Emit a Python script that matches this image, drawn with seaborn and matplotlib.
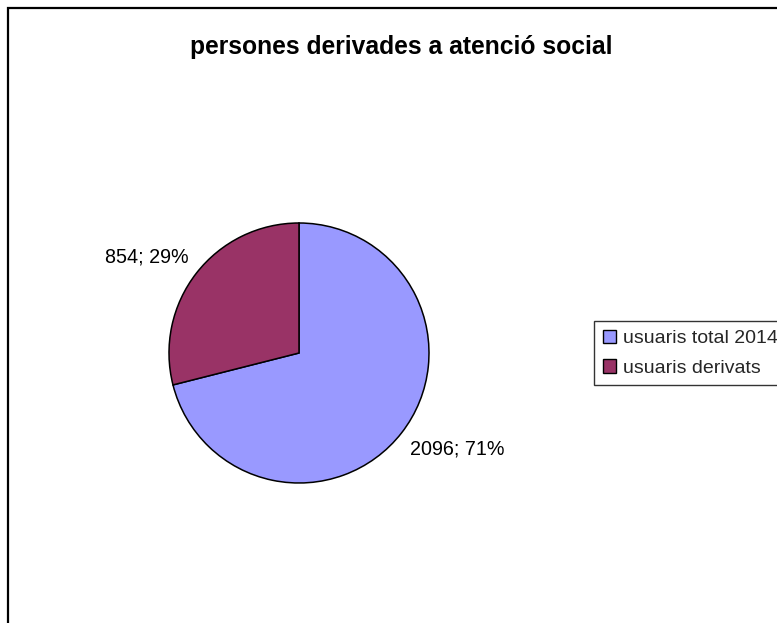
import matplotlib
matplotlib.use("Agg")
import matplotlib.pyplot as plt
import seaborn as sns
from matplotlib.patches import Rectangle

# --- data ---
categories = ["usuaris total 2014", "usuaris derivats"]
values = [2096, 854]
colors = ["#9999FF", "#993366"]
title = "persones derivades a atenció social"

sns.set_theme(style="white")
plt.rcParams['font.family'] = ['Liberation Sans', 'DejaVu Sans']

W, H = 777, 623
fig = plt.figure(figsize=(W / 100, H / 100), dpi=100)
fig.patch.set_facecolor("white")

# chart border (right/bottom fall outside the picture)
fig.add_artist(Rectangle((8 / W, -0.2), 1.3, (H - 8) / H + 0.2, transform=fig.transFigure,
                         fill=False, edgecolor="black", linewidth=1.6, clip_on=False))

# pie axes: centre ~ (299, 353) px, radius ~130 px
r = 130
ax = fig.add_axes([(299 - r) / W, (H - 353 - r) / H, 2 * r / W, 2 * r / H])

total = sum(values)
labels = [f"{v}; {round(100 * v / total)}%" for v in values]
wedges, texts = ax.pie(values, colors=colors, startangle=90, counterclock=False,
                       labels=labels, labeldistance=1.08,
                       wedgeprops=dict(edgecolor="black", linewidth=1.1),
                       textprops=dict(fontsize=14.2, color="black"))
# Excel-style: label hangs below / sits above its anchor point
for t in texts:
    x, y = t.get_position()
    t.set_va("top" if y < 0 else "bottom")
ax.set_xlim(-1, 1)
ax.set_ylim(-1, 1)
ax.set_aspect("auto")
ax.axis("off")

fig.text(401 / W, 1 - 47 / H, title, ha="center", va="center",
         fontsize=17.7, fontweight="bold", color="black")

leg = fig.legend(wedges, categories, loc="upper left", bbox_to_anchor=(594 / W, 1 - 321 / H),
                 bbox_transform=fig.transFigure, fontsize=14, frameon=True, fancybox=False,
                 edgecolor="black", handlelength=0.7, handleheight=0.7, handletextpad=0.35,
                 labelspacing=0.6, borderpad=0.45, borderaxespad=0)
leg.get_frame().set_linewidth(1.0)
for h in leg.legend_handles:
    h.set_edgecolor("black")
    h.set_linewidth(1.0)

fig.savefig("out.png", dpi=100)
